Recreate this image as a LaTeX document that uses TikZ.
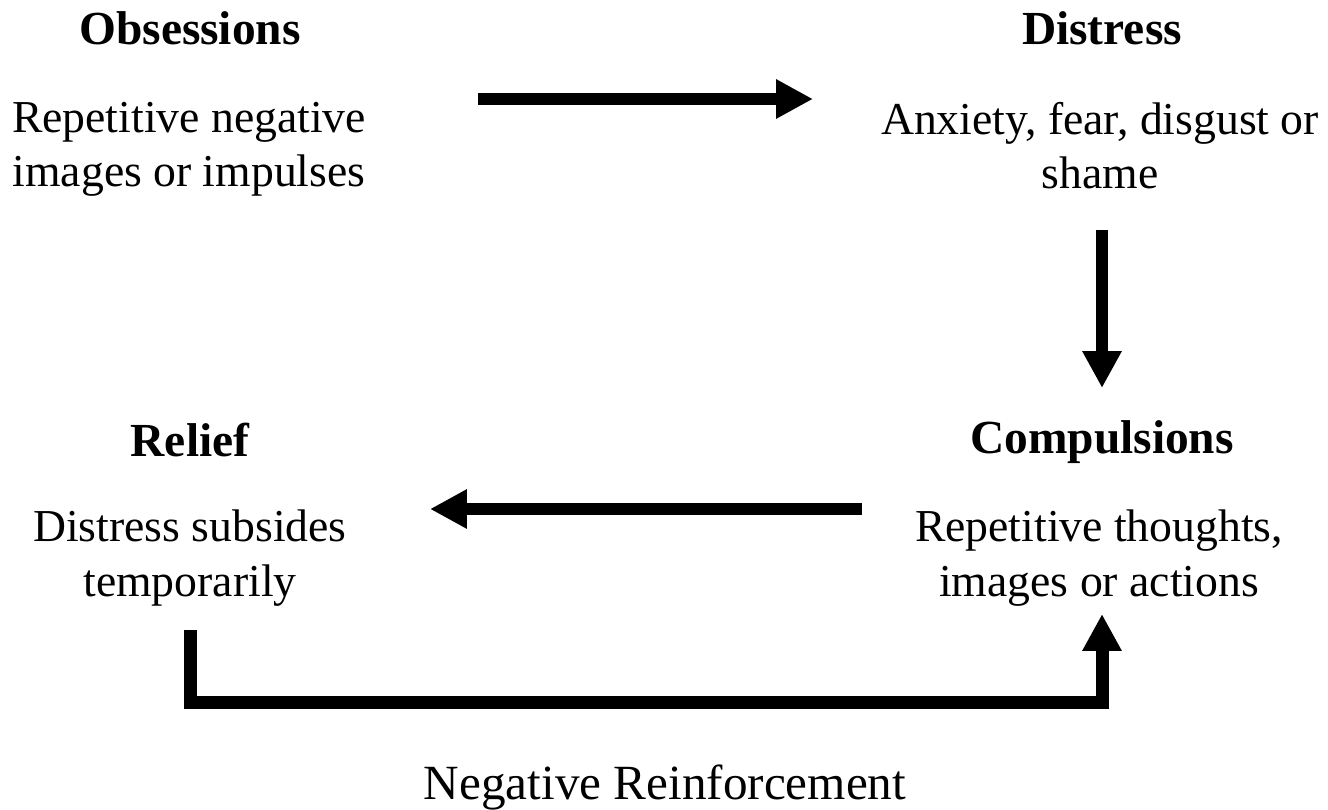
\documentclass[tikz,border=0pt]{standalone}
\usepackage{fontspec}
\setmainfont{Liberation Serif}
\usetikzlibrary{arrows.meta}

\tikzset{
  head/.style={font=\fontsize{27}{32}\selectfont\bfseries},
  body/.style={align=center, anchor=north, font=\fontsize{26}{31}\selectfont},
  flow/.style={line width=0.24cm, -{Triangle[length=0.74cm,width=0.74cm]}},
}

\begin{document}
\begin{tikzpicture}[x=0.02cm,y=-0.02cm]
    \useasboundingbox (0,0) rectangle (1328,810);
    % the four stages of the cycle
    \node[head] (obshead) at (190,28) {Obsessions};
    \node[body] (obs) at (189,96) {Repetitive negative\\images or impulses};
    \node[head] (dishead) at (1102,28) {Distress};
    \node[body] (dis) at (1100,96) {Anxiety, fear, disgust or\\shame};
    \node[head] (comphead) at (1102,442) {Compulsions};
    \node[body] (comp) at (1099,504) {Repetitive thoughts,\\images or actions};
    \node[head] (relhead) at (190,440) {Relief};
    \node[body] (rel) at (190,504) {Distress subsides\\temporarily};
    \node[font=\fontsize{28}{33}\selectfont] (negrein) at (665,787) {Negative Reinforcement};

    % arrow end points
    \coordinate (a1s) at (478,99);
    \coordinate (a1e) at (813,99);
    \coordinate (a2s) at (1102,230);
    \coordinate (a2e) at (1102,388);
    \coordinate (a3s) at (862,509);
    \coordinate (a3e) at (430,509);
    \coordinate (a4s) at (190,630);
    \coordinate (a4e) at (1102,614);

    \draw[flow] (a1s) -- (a1e);
    \draw[flow] (a2s) -- (a2e);
    \draw[flow] (a3s) -- (a3e);
    \draw[flow, line width=0.26cm, miter limit=4] (a4s) |- (1102,702) -- (a4e);
\end{tikzpicture}
\end{document}
